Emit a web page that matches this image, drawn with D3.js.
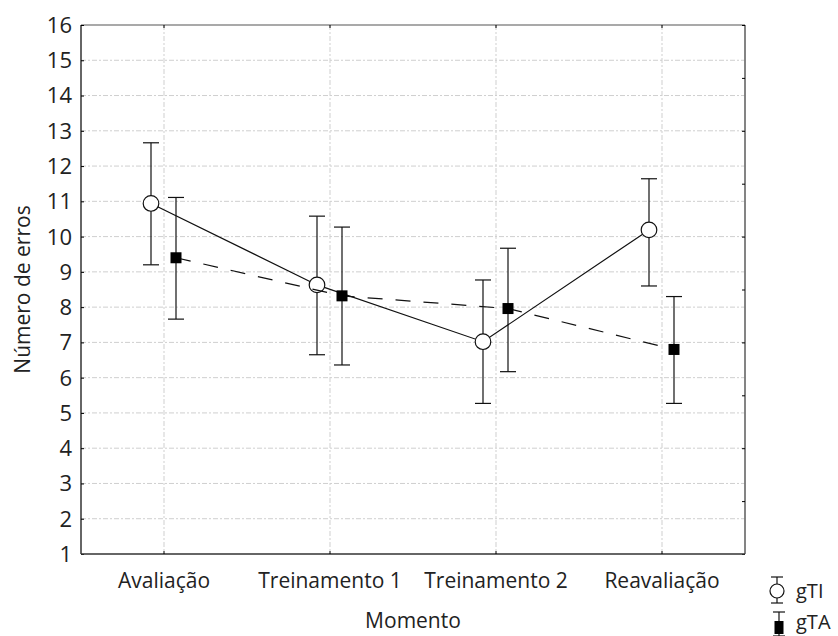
<!DOCTYPE html>
<html>
<head>
<meta charset="utf-8">
<script src="https://cdn.jsdelivr.net/npm/d3@7"></script>
<style>
  body { margin: 0; background: #fff; }
  svg { display: block; font-family: "Open Sans", sans-serif; }
</style>
</head>
<body>
<div id="chart"></div>
<script>
var momentos = ['Avaliação', 'Treinamento 1', 'Treinamento 2', 'Reavaliação']
var yTicks = d3.range(1, 17)

// mean, lower, upper
var gTI = [10.94, 8.63, 7.02, 10.19]
var gTIlow = [9.20, 6.65, 5.27, 8.60]
var gTIhigh = [12.66, 10.58, 8.77, 11.64]

var gTA = [9.40, 8.32, 7.96, 6.80]
var gTAlow = [7.66, 6.36, 6.17, 5.27]
var gTAhigh = [11.11, 10.27, 9.67, 8.30]

var width = 838, height = 636
var margin = {left: 81, top: 25, right: 93, bottom: 82}

var svg = d3.select('#chart').append('svg')
  .attr('width', width).attr('height', height)

var x = d3.scaleBand().domain(momentos)
  .range([margin.left, width - margin.right])
var y = d3.scaleLinear().domain([1, 16])
  .range([height - margin.bottom, margin.top])

var x0 = margin.left, x1 = width - margin.right
var y0 = height - margin.bottom, y1 = margin.top
var gridDash = '5,2,2,2'

// grid
svg.append('g').selectAll('line').data(yTicks.slice(1, -1)).enter()
  .append('line')
  .attr('x1', x0).attr('x2', x1)
  .attr('y1', function(d){ return y(d) }).attr('y2', function(d){ return y(d) })
  .attr('stroke', '#cfcfcf').attr('stroke-dasharray', gridDash)
svg.append('g').selectAll('line').data(momentos).enter()
  .append('line')
  .attr('x1', function(d){ return x(d) + x.bandwidth()/2 })
  .attr('x2', function(d){ return x(d) + x.bandwidth()/2 })
  .attr('y1', y1).attr('y2', y0)
  .attr('stroke', '#cfcfcf').attr('stroke-dasharray', gridDash)

// frame: top and right in grey
svg.append('line').attr('x1', x0).attr('x2', x1).attr('y1', y1).attr('y2', y1)
  .attr('stroke', '#555').attr('stroke-width', 1.2)
svg.append('line').attr('x1', x1).attr('x2', x1).attr('y1', y1).attr('y2', y0)
  .attr('stroke', '#777').attr('stroke-width', 1.8)

// right axis minor ticks (10 divisions)
var yr = d3.scaleLinear().domain([0, 10]).range([y0, y1])
svg.append('g').attr('transform', 'translate(' + x1 + ',0)')
  .call(d3.axisLeft(yr).ticks(10).tickSize(3).tickFormat(''))
  .call(function(g){ g.select('.domain').remove() })

// top ticks
svg.append('g').attr('transform', 'translate(0,' + y1 + ')')
  .call(d3.axisBottom(x).tickSize(3).tickFormat(''))
  .call(function(g){ g.select('.domain').remove() })

// left axis
var yAxis = svg.append('g').attr('transform', 'translate(' + x0 + ',0)')
  .call(d3.axisRight(y).tickValues(yTicks).tickSize(3).tickFormat(''))
yAxis.select('.domain').attr('stroke', '#333').attr('stroke-width', 1.5)
  .attr('d', 'M0,' + y1 + 'V' + y0)
svg.append('g').selectAll('text').data(yTicks).enter()
  .append('text')
  .attr('x', 72).attr('y', function(d){ return y(d) })
  .attr('dy', '0.36em')
  .attr('text-anchor', 'end')
  .attr('font-size', 22).attr('fill', '#222')
  .text(function(d){ return d })

// bottom axis
var xAxis = svg.append('g').attr('transform', 'translate(0,' + y0 + ')')
  .call(d3.axisTop(x).tickSize(3).tickFormat(''))
xAxis.select('.domain').attr('stroke', '#333').attr('stroke-width', 1.5)
  .attr('d', 'M' + x0 + ',0H' + x1)
svg.append('g').selectAll('text').data(momentos).enter()
  .append('text')
  .attr('x', function(d){ return x(d) + x.bandwidth()/2 })
  .attr('y', 588)
  .attr('text-anchor', 'middle')
  .attr('font-size', 21).attr('fill', '#222')
  .text(function(d){ return d })

svg.append('text')
  .attr('x', (x0 + x1)/2).attr('y', 628)
  .attr('text-anchor', 'middle')
  .attr('font-size', 21).attr('fill', '#222')
  .text('Momento')

svg.append('text')
  .attr('transform', 'translate(30,' + ((y0 + y1)/2) + ') rotate(-90)')
  .attr('text-anchor', 'middle')
  .attr('font-size', 21).attr('fill', '#222')
  .text('Número de erros')

// series
var series = [
  {name: 'gTI', mean: gTI, low: gTIlow, high: gTIhigh, off: -13, dash: null, shape: 'circle'},
  {name: 'gTA', mean: gTA, low: gTAlow, high: gTAhigh, off: 12, dash: '15,13', shape: 'square'}
]
var cap = 8

series.forEach(function(s){
  var px = function(i){ return x(momentos[i]) + x.bandwidth()/2 + s.off }
  var line = d3.line()
    .x(function(d, i){ return px(i) })
    .y(function(d){ return y(d) })
  var g = svg.append('g')

  s.mean.forEach(function(m, i){
    g.append('line').attr('x1', px(i)).attr('x2', px(i))
      .attr('y1', y(s.low[i])).attr('y2', y(s.high[i]))
      .attr('stroke', '#111').attr('stroke-width', 1.2)
    ;[s.low[i], s.high[i]].forEach(function(v){
      g.append('line').attr('x1', px(i) - cap).attr('x2', px(i) + cap)
        .attr('y1', y(v)).attr('y2', y(v))
        .attr('stroke', '#111').attr('stroke-width', 1.2)
    })
  })

  g.append('path').datum(s.mean)
    .attr('d', line)
    .attr('fill', 'none').attr('stroke', '#111').attr('stroke-width', 1.2)
    .attr('stroke-dasharray', s.dash)

  s.mean.forEach(function(m, i){
    if (s.shape == 'circle') {
      g.append('circle').attr('cx', px(i)).attr('cy', y(m)).attr('r', 7.8)
        .attr('fill', '#fff').attr('stroke', '#111').attr('stroke-width', 1.2)
    } else {
      g.append('rect').attr('x', px(i) - 5.5).attr('y', y(m) - 5.5)
        .attr('width', 11).attr('height', 11).attr('fill', '#000')
    }
  })
})

// legend
var leg = svg.append('g')
function legendBar(cx, ya, yb){
  leg.append('line').attr('x1', cx).attr('x2', cx).attr('y1', ya).attr('y2', yb)
    .attr('stroke', '#111').attr('stroke-width', 1.2)
  ;[ya, yb].forEach(function(v){
    leg.append('line').attr('x1', cx - 6).attr('x2', cx + 6).attr('y1', v).attr('y2', v)
      .attr('stroke', '#111').attr('stroke-width', 1.2)
  })
}
legendBar(777, 577, 603)
leg.append('circle').attr('cx', 777).attr('cy', 591).attr('r', 7)
  .attr('fill', '#fff').attr('stroke', '#111').attr('stroke-width', 1.2)
leg.append('text').attr('x', 796).attr('y', 598).attr('font-size', 20).attr('fill', '#222').text('gTI')

legendBar(779, 612, 636)
leg.append('rect').attr('x', 774.5).attr('y', 621).attr('width', 9).attr('height', 13).attr('fill', '#000')
leg.append('text').attr('x', 796).attr('y', 629).attr('font-size', 20).attr('fill', '#222').text('gTA')
</script>
</body>
</html>
